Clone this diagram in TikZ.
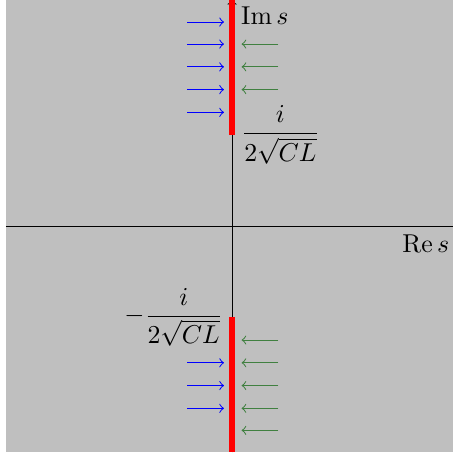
\documentclass[tikz,border=0pt]{standalone}
\usepackage{amsmath, amssymb}
\usetikzlibrary{calc}
\usetikzlibrary{positioning}
\usetikzlibrary{arrows}
\definecolor{flowgreen}{rgb}{0.25,0.5,0.25}
\tikzstyle{axis} = [->, black]
\tikzstyle{cut} = [red, line width=2pt]
\tikzstyle{inflow} = [->, blue]
\tikzstyle{outflow} = [->, flowgreen]

\begin{document}
\begin{tikzpicture}
            \useasboundingbox (-3.16,-3.17) rectangle (3.0,3.08);
            \fill[lightgray] (-3.08,-3.08) rectangle (3.08,3.08); % plane
            \draw[axis] (-3.08,0) -- (3.08,0) coordinate (reend);
            \draw[axis] (0,-3.08) -- (0,3.08) coordinate (imend);
            \node[below left] (relabel) at (reend) {$\operatorname{Re} s$};
            \node[right] (imlabel) at (0,2.86) {$\operatorname{Im} s$};
            % branch cuts
            \coordinate (uppertop) at (0,3.08);
            \coordinate (lowerbot) at (0,-3.08);
            \node[right] (upperend) at (0,1.24) {$\dfrac{i}{2\sqrt{CL}}$};
            \node[left] (lowerend) at (0,-1.24) {$-\dfrac{i}{2\sqrt{CL}}$};
            \draw[cut] (upperend.west) -- (uppertop);
            \draw[cut] (lowerend.east) -- (lowerbot);
            \foreach \y in {1.55,1.86,2.17,2.48,2.78}
                \draw[inflow] (-0.61,\y) -- (-0.11,\y);
            \foreach \y in {1.86,2.17,2.48}
                \draw[outflow] (0.63,\y) -- (0.13,\y);
            \foreach \y in {-1.55,-1.86,-2.17,-2.48,-2.78}
                \draw[outflow] (0.63,\y) -- (0.13,\y);
            \foreach \y in {-1.86,-2.17,-2.48}
                \draw[inflow] (-0.61,\y) -- (-0.11,\y);
        \end{tikzpicture}
\end{document}
